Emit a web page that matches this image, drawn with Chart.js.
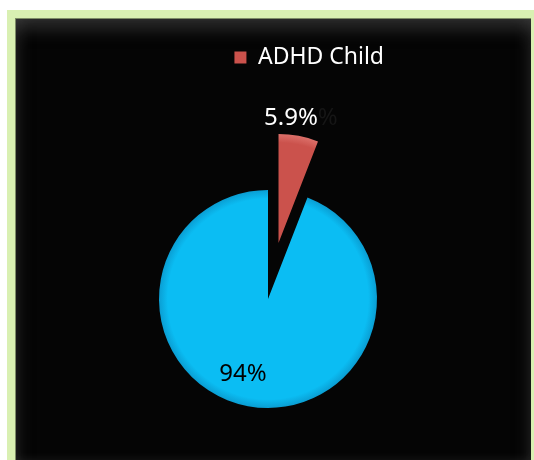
<!DOCTYPE html>
<html>
<head>
<meta charset="utf-8">
<script src="https://cdn.jsdelivr.net/npm/chart.js@4.4.1/dist/chart.umd.min.js"></script>
<style>
html, body { margin: 0; padding: 0; background: #fff; width: 534px; height: 460px; overflow: hidden; }
#frame { position: absolute; left: 7px; top: 10px; width: 527px; height: 470px; background: #d9f0b2; }
#panel {
    position: absolute; left: 8px; top: 8px; width: 515px; height: 446px;
    background: #050505;
    border-left: 1px solid #7d8c66; border-top: 1px solid #7d8c66;
    box-shadow: inset 0 18px 18px -10px rgba(90,90,90,0.55),
                inset 14px 0 16px -12px rgba(60,60,60,0.5),
                inset -14px 0 16px -12px rgba(60,60,60,0.5),
                inset 0 -10px 10px -6px rgba(60,60,60,0.5);
}
canvas { position: absolute; left: 0; top: 0; }
</style>
</head>
<body>
<div id="frame"><div id="panel"></div></div>
<canvas id="pieChart" width="534" height="560"></canvas>
<script>
// chart data
const categories = ['ADHD Child', ''];
const shares = [5.9, 94.1];
const labelTexts = ['5.9%', '94%'];

// styles
const sliceColors = ['#cb524c', '#0bbdf3'];
const rimColors = ['#dc706a', '#0a9ed3'];
const labelColors = ['#ffffff', '#000000'];
const explode = [228, 0];
const pieRadius = 109;

// Chart.js grows and narrows a small exploded arc (fix = 1 - sin(circumference)).
// Telling the element its circumference is a quarter turn makes that fix zero,
// the drawn angles still come from startAngle / endAngle.
const explodeFix = {
    id: 'explodeFix',
    afterDatasetUpdate(chart, args) {
        const meta = chart.getDatasetMeta(args.index);
        meta.data.forEach((arc) => {
            if ((arc.options.offset || 0) > 0 && arc.circumference < Math.PI / 2) {
                arc.circumference = Math.PI / 2;
            }
        });
    }
};

// percentage labels on the slices
const sliceLabels = {
    id: 'sliceLabels',
    afterDatasetsDraw(chart) {
        const ctx = chart.ctx;
        const meta = chart.getDatasetMeta(0);
        const dist = [1.165, 0.70];
        ctx.save();
        ctx.font = '24px "Noto Sans"';
        ctx.textAlign = 'center';
        ctx.textBaseline = 'middle';
        meta.data.forEach((arc, i) => {
            const mid = (arc.startAngle + arc.endAngle) / 2;
            const t = (arc.options.offset || 0) / 4;
            const r = t + arc.outerRadius * dist[i];
            const x = arc.x + Math.cos(mid) * r - 11;
            const y = arc.y + Math.sin(mid) * r;
            ctx.fillStyle = labelColors[i];
            ctx.fillText(labelTexts[i], x, y);
            if (i === 0) {
                // faint doubled percent sign seen in the original
                const w = ctx.measureText(labelTexts[i]).width;
                ctx.fillStyle = '#161616';
                ctx.textAlign = 'left';
                ctx.fillText('%', x + w / 2, y);
                ctx.textAlign = 'center';
            }
        });
        ctx.restore();
    }
};

function sliceFill(c) {
    const i = c.dataIndex;
    const area = c.chart.chartArea;
    if (!area || c.type !== 'data') return sliceColors[i];
    const cx = (area.left + area.right) / 2;
    const cy = (area.top + area.bottom) / 2;
    const g = c.chart.ctx.createRadialGradient(cx, cy, 0, cx, cy, pieRadius);
    g.addColorStop(0, sliceColors[i]);
    g.addColorStop(0.92, sliceColors[i]);
    g.addColorStop(1, rimColors[i]);
    return g;
}

new Chart(document.getElementById('pieChart'), {
    type: 'pie',
    data: {
        labels: categories,
        datasets: [{
            data: shares,
            backgroundColor: sliceFill,
            borderWidth: 0,
            offset: explode
        }]
    },
    options: {
        responsive: false,
        animation: false,
        events: [],
        radius: pieRadius,
        layout: { padding: { top: 36, left: 142, right: 140, bottom: 41 } },
        plugins: {
            tooltip: { enabled: false },
            legend: {
                position: 'top',
                align: 'end',
                labels: {
                    color: '#ffffff',
                    boxWidth: 12,
                    boxHeight: 12,
                    font: { family: 'Noto Sans', size: 23 },
                    generateLabels(chart) {
                        const items = Chart.overrides.pie.plugins.legend.labels.generateLabels(chart);
                        return items.filter((it) => it.text !== '').map((it) => Object.assign(it, {
                            fillStyle: sliceColors[it.index],
                            strokeStyle: sliceColors[it.index],
                            lineWidth: 0,
                            fontColor: '#ffffff'
                        }));
                    }
                }
            }
        }
    },
    plugins: [explodeFix, sliceLabels]
});
</script>
</body>
</html>
